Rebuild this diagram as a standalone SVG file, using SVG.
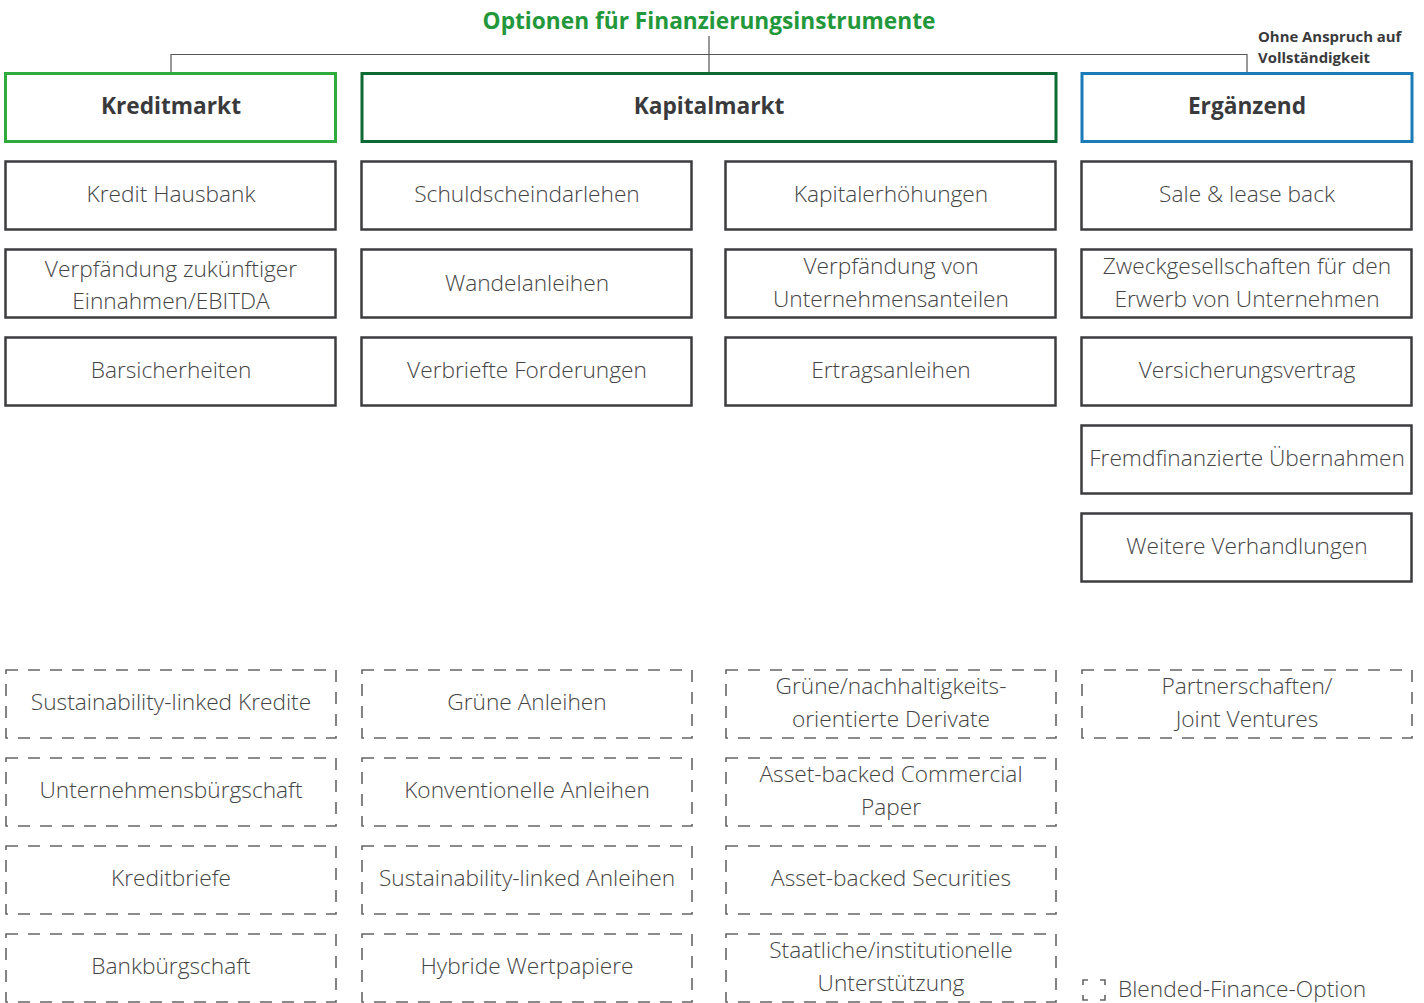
<svg xmlns="http://www.w3.org/2000/svg" width="1424" height="1003" viewBox="0 0 1424 1003">
<style>
.bg{fill:#fff}
.t{font-family:"Open Sans","Liberation Sans",sans-serif;font-weight:300;font-size:22.7px;fill:#444;text-anchor:middle}
.h{font-family:"Open Sans","Liberation Sans",sans-serif;font-weight:700;font-size:22.7px;fill:#3a3a3c;text-anchor:middle}
.s{fill:#fff;stroke:#3d3d40;stroke-width:2.5}
.d{fill:#fff;stroke:#666;stroke-width:1.6;stroke-dasharray:12 10}
.c{fill:none;stroke:#555;stroke-width:1.2}
</style>
<rect class="bg" width="1424" height="1003"/>
<text x="709" y="29" style="font-family:'Open Sans','Liberation Sans',sans-serif;font-weight:700;font-size:22.7px;fill:#23983a;text-anchor:middle">Optionen für Finanzierungsinstrumente</text>
<text x="1258" y="42" style="font-family:'Open Sans','Liberation Sans',sans-serif;font-weight:700;font-size:14.9px;fill:#3a3a3c">Ohne Anspruch auf</text>
<text x="1258" y="63" style="font-family:'Open Sans','Liberation Sans',sans-serif;font-weight:700;font-size:14.9px;fill:#3a3a3c">Vollständigkeit</text>
<g id="connectors">
<path class="c" d="M171 73V54.5H1247V73M709 36V73"/>
</g>
<g id="kreditmarkt"><rect x="5.5" y="73.5" width="330" height="68" fill="#fff" stroke="#2faa3d" stroke-width="3"/><text class="h" x="171" y="114">Kreditmarkt</text></g>
<g id="kapitalmarkt"><rect x="362" y="73.5" width="694" height="68" fill="#fff" stroke="#0e6a33" stroke-width="3"/><text class="h" x="709" y="114">Kapitalmarkt</text></g>
<g id="ergaenzend"><rect x="1082" y="73.5" width="330" height="68" fill="#fff" stroke="#1a7bb9" stroke-width="3"/><text class="h" x="1247" y="114">Ergänzend</text></g>

<g id="n1"><rect class="s" x="5.5" y="161.5" width="330" height="68"/><text class="t" x="171" y="202">Kredit Hausbank</text></g>
<g id="n2"><rect class="s" x="5.5" y="249.5" width="330" height="68"/><text class="t" x="171" y="277">Verpfändung zukünftiger</text><text class="t" x="171" y="309">Einnahmen/EBITDA</text></g>
<g id="n3"><rect class="s" x="5.5" y="337.5" width="330" height="68"/><text class="t" x="171" y="378">Barsicherheiten</text></g>

<g id="n4"><rect class="s" x="361.5" y="161.5" width="330" height="68"/><text class="t" x="527" y="202">Schuldscheindarlehen</text></g>
<g id="n5"><rect class="s" x="361.5" y="249.5" width="330" height="68"/><text class="t" x="527" y="291">Wandelanleihen</text></g>
<g id="n6"><rect class="s" x="361.5" y="337.5" width="330" height="68"/><text class="t" x="527" y="378">Verbriefte Forderungen</text></g>

<g id="n7"><rect class="s" x="725.5" y="161.5" width="330" height="68"/><text class="t" x="891" y="202">Kapitalerhöhungen</text></g>
<g id="n8"><rect class="s" x="725.5" y="249.5" width="330" height="68"/><text class="t" x="891" y="274">Verpfändung von</text><text class="t" x="891" y="307">Unternehmensanteilen</text></g>
<g id="n9"><rect class="s" x="725.5" y="337.5" width="330" height="68"/><text class="t" x="891" y="378">Ertragsanleihen</text></g>

<g id="n10"><rect class="s" x="1081.5" y="161.5" width="330" height="68"/><text class="t" x="1247" y="202">Sale &amp; lease back</text></g>
<g id="n11"><rect class="s" x="1081.5" y="249.5" width="330" height="68"/><text class="t" x="1247" y="274">Zweckgesellschaften für den</text><text class="t" x="1247" y="307">Erwerb von Unternehmen</text></g>
<g id="n12"><rect class="s" x="1081.5" y="337.5" width="330" height="68"/><text class="t" x="1247" y="378">Versicherungsvertrag</text></g>
<g id="n13"><rect class="s" x="1081.5" y="425.5" width="330" height="68"/><text class="t" x="1247" y="466">Fremdfinanzierte Übernahmen</text></g>
<g id="n14"><rect class="s" x="1081.5" y="513.5" width="330" height="68"/><text class="t" x="1247" y="554">Weitere Verhandlungen</text></g>

<g id="d1"><rect class="d" x="6" y="670" width="330" height="68"/><text class="t" x="171" y="710">Sustainability-linked Kredite</text></g>
<g id="d2"><rect class="d" x="6" y="758" width="330" height="68"/><text class="t" x="171" y="798">Unternehmensbürgschaft</text></g>
<g id="d3"><rect class="d" x="6" y="846" width="330" height="68"/><text class="t" x="171" y="886">Kreditbriefe</text></g>
<g id="d4"><rect class="d" x="6" y="934" width="330" height="68"/><text class="t" x="171" y="974">Bankbürgschaft</text></g>

<g id="d5"><rect class="d" x="362" y="670" width="330" height="68"/><text class="t" x="527" y="710">Grüne Anleihen</text></g>
<g id="d6"><rect class="d" x="362" y="758" width="330" height="68"/><text class="t" x="527" y="798">Konventionelle Anleihen</text></g>
<g id="d7"><rect class="d" x="362" y="846" width="330" height="68"/><text class="t" x="527" y="886">Sustainability-linked Anleihen</text></g>
<g id="d8"><rect class="d" x="362" y="934" width="330" height="68"/><text class="t" x="527" y="974">Hybride Wertpapiere</text></g>

<g id="d9"><rect class="d" x="726" y="670" width="330" height="68"/><text class="t" x="891" y="694">Grüne/nachhaltigkeits-</text><text class="t" x="891" y="727">orientierte Derivate</text></g>
<g id="d10"><rect class="d" x="726" y="758" width="330" height="68"/><text class="t" x="891" y="782">Asset-backed Commercial</text><text class="t" x="891" y="815">Paper</text></g>
<g id="d11"><rect class="d" x="726" y="846" width="330" height="68"/><text class="t" x="891" y="886">Asset-backed Securities</text></g>
<g id="d12"><rect class="d" x="726" y="934" width="330" height="68"/><text class="t" x="891" y="958">Staatliche/institutionelle</text><text class="t" x="891" y="991">Unterstützung</text></g>

<g id="d13"><rect class="d" x="1082" y="670" width="330" height="68"/><text class="t" x="1247" y="694">Partnerschaften/</text><text class="t" x="1247" y="727">Joint Ventures</text></g>

<g id="legend">
<path d="M1083 985v-5h5M1100 980h5v5M1083 995v5h5M1100 1000h5v-5" fill="none" stroke="#666" stroke-width="1.6"/>
<text x="1118" y="997" style="font-family:'Open Sans','Liberation Sans',sans-serif;font-weight:300;font-size:22.7px;fill:#444">Blended-Finance-Option</text>
</g>
</svg>
